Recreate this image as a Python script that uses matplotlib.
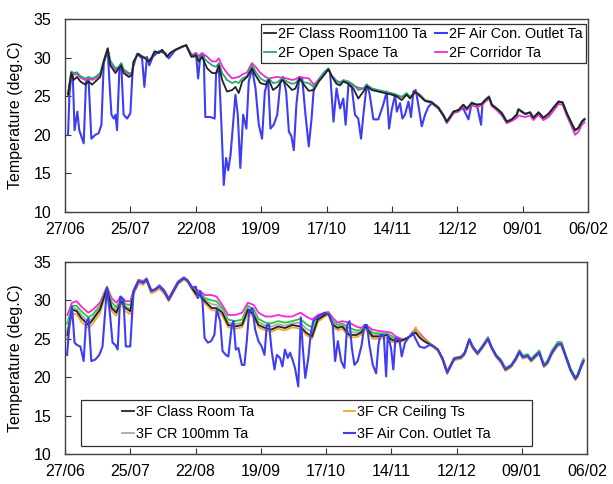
import matplotlib
matplotlib.use("Agg")
import matplotlib.pyplot as plt
from matplotlib.patches import Rectangle

plt.rcParams['font.family'] = ['Liberation Sans', 'DejaVu Sans']

# ---------------- axis labelling ----------------
tick_days = [0, 28, 56, 84, 112, 140, 168, 196, 224]
tick_labels = ['27/06', '25/07', '22/08', '19/09', '17/10', '14/11', '12/12', '09/01', '06/02']
y_ticks = [10, 15, 20, 25, 30, 35]

# ---------------- 2F series (days since 27/06) ----------------
days_2f = [1.3, 2.7, 3.7, 5.1, 6.6, 8.7, 10.1, 11.6, 13, 15.1,
           16.6, 18.3, 19.4, 21.6, 23, 24.1, 25.1, 27.3, 28.7, 29.4,
           31.3, 33, 34.4, 35.9, 37, 38.4, 40.1, 41.6, 43.7, 45.1,
           47.3, 50.1, 51.9, 54.1, 56.1, 57.3, 58.7, 60.9, 63, 64.7,
           65.9, 67.3, 69.4, 71.6, 73, 74.4, 75.9, 78, 80.1, 81.6,
           83.7, 85.9, 87.3, 89.1, 90.9, 93, 95.1, 97.3, 98.7, 100.4,
           102.3, 104.4, 106.6, 108.7, 111.4, 112.8, 114.2, 116.3, 117.8, 119.2,
           121.4, 123.5, 125.6, 127.8, 129.2, 131.4, 134.2, 137.1, 139.9, 142,
           144.2, 146.3, 147.8, 149.9, 152.1, 154.2, 157, 159.9, 162.1, 163.5,
           164.9, 166.4, 168.5, 170.6, 172.1, 174.2, 176.4, 178.5, 180, 181.6,
           182.8, 184.9, 187.1, 189.2, 191.4, 193.5, 194.2, 195.6, 197.1, 199.2,
           200.6, 202.8, 204.9, 207.1, 209.2, 211.4, 213.1, 214.9, 217.1, 218.5,
           219.9, 221.4, 222.5]

classroom_2f = [25.2, 28.0, 27.1, 27.5, 26.9, 26.5, 26.9, 26.5, 26.9, 27.5,
                29.5, 31.2, 29.0, 28.0, 28.6, 29.0, 28.0, 27.5, 27.7, 29.5,
                30.5, 30.1, 29.9, 29.5, 29.9, 30.8, 30.6, 31.0, 30.1, 30.6,
                31.0, 31.4, 31.6, 30.1, 30.3, 29.5, 30.1, 28.6, 28.0, 28.0,
                29.0, 27.1, 25.6, 25.8, 26.2, 25.4, 26.9, 27.5, 28.6, 27.7,
                26.7, 26.5, 27.1, 25.8, 26.2, 27.1, 26.5, 25.8, 26.0, 27.3,
                26.5, 25.7, 25.8, 26.9, 27.9, 28.5, 27.6, 26.6, 26.4, 26.9,
                26.6, 26.0, 24.7, 25.6, 26.3, 25.8, 25.6, 25.4, 25.2, 25.0,
                24.5, 25.2, 24.7, 25.6, 25.0, 24.4, 24.2, 23.5, 22.5, 21.7,
                22.3, 23.0, 23.2, 23.9, 23.4, 24.1, 23.9, 24.0, 24.5, 24.9,
                23.9, 23.4, 22.8, 21.7, 22.0, 22.6, 23.3, 23.0, 22.7, 22.9,
                22.2, 22.9, 22.2, 22.7, 23.5, 24.3, 24.2, 22.8, 21.4, 20.6,
                20.9, 21.7, 22.0]

open_space_2f = [25.3, 28.2, 28.0, 28.1, 27.6, 27.3, 27.5, 27.3, 27.5, 28.0,
                 29.6, 31.2, 29.6, 28.6, 28.8, 29.3, 28.5, 28.0, 28.0, 29.5,
                 30.5, 30.2, 30.0, 29.6, 30.0, 30.8, 30.6, 31.0, 30.2, 30.6,
                 31.0, 31.4, 31.6, 30.2, 30.4, 29.8, 30.2, 29.5, 29.0, 28.8,
                 29.3, 28.0, 27.1, 26.7, 26.9, 26.7, 27.3, 27.6, 29.0, 28.2,
                 27.3, 26.9, 27.3, 26.7, 26.8, 27.3, 26.9, 26.6, 26.7, 27.3,
                 26.8, 26.7, 26.2, 27.0, 28.2, 28.6, 27.7, 26.9, 26.7, 27.1,
                 26.9, 26.5, 25.8, 26.0, 26.5, 26.0, 25.8, 25.6, 25.4, 25.2,
                 24.9, 25.4, 24.9, 25.6, 25.2, 24.5, 24.3, 23.6, 22.6, 21.7,
                 22.3, 23.0, 23.2, 23.9, 23.4, 24.2, 23.9, 24.0, 24.5, 25.0,
                 23.9, 23.4, 22.8, 21.7, 22.0, 22.7, 23.3, 23.1, 22.7, 22.9,
                 22.2, 22.9, 22.2, 22.7, 23.5, 24.3, 24.2, 22.8, 21.4, 20.5,
                 20.9, 21.8, 22.1]

corridor_2f = [25.2, 28.1, 27.8, 27.9, 27.4, 27.1, 27.3, 27.1, 27.3, 27.8,
               29.5, 31.1, 29.4, 28.4, 28.7, 29.1, 28.3, 27.8, 27.9, 29.5,
               30.5, 30.1, 29.9, 29.5, 29.9, 30.8, 30.6, 31.0, 30.1, 30.6,
               31.0, 31.4, 31.6, 30.3, 30.6, 30.2, 30.6, 30.1, 29.5, 29.5,
               29.9, 28.9, 28.0, 27.3, 27.4, 27.5, 27.8, 28.1, 29.3, 28.8,
               28.0, 27.5, 27.3, 27.4, 27.5, 27.4, 27.3, 27.1, 27.2, 27.5,
               27.4, 27.3, 26.5, 27.1, 28.1, 28.4, 27.7, 27.0, 26.8, 27.0,
               26.8, 26.4, 26.1, 26.0, 26.4, 26.0, 25.7, 25.5, 25.3, 25.1,
               24.9, 25.2, 24.9, 25.4, 25.0, 24.4, 24.1, 23.4, 22.4, 21.5,
               22.1, 22.8, 23.0, 23.6, 23.2, 23.8, 23.6, 23.8, 24.3, 24.7,
               23.7, 23.2, 22.5, 21.5, 21.8, 22.2, 22.5, 22.4, 22.3, 22.5,
               21.9, 22.6, 21.9, 22.3, 23.1, 24.0, 23.9, 22.5, 21.0, 20.0,
               20.4, 21.3, 21.6]

outlet_2f_days = [1.3, 1.9, 2.7, 3.3, 4.1, 5.3, 6.1, 8, 9, 10.1,
                  11.3, 13, 14.4, 15.6, 16.6, 18.3, 19.1, 19.9, 20.9, 21.6,
                  22.3, 23.3, 24.1, 25.1, 26.6, 28, 29, 30.9, 33, 34,
                  35.1, 36.1, 37.6, 40.1, 43, 44.4, 47.3, 50.1, 51.9, 53.7,
                  55.1, 56.1, 57, 58, 59.4, 60.1, 62.3, 64.1, 64.7, 65.9,
                  67, 68, 69, 69.9, 70.9, 72.3, 73, 74, 75.1, 76.3,
                  77.7, 78.7, 80.1, 81.6, 83, 84.4, 85.6, 87, 88, 89.4,
                  90.9, 92.3, 93.4, 94.7, 95.9, 97, 98, 99.1, 100.4, 101.6,
                  103, 104.4, 105.6, 106.6, 108, 110.1, 111.4, 112.8, 113.5, 115,
                  116.3, 117.8, 119.2, 120.2, 121.4, 122.8, 124.2, 125.6, 126.8, 127.8,
                  129.2, 130.4, 132.1, 134.2, 136.3, 137.8, 138.8, 139.9, 141.4, 142.1,
                  143.5, 144.5, 145.6, 147.1, 148.2, 149.2, 150.2, 151.1, 152.8, 154.2,
                  155.6, 157.1, 159.9, 162.1, 163.5, 164.9, 166.4, 168.5, 170.6, 172.8,
                  174.2, 176.4, 178.2, 178.8, 180, 181.6, 182.8, 184.9, 187.1, 189.2,
                  191.4, 193.5, 194.2, 195.6, 197.1, 199.2, 200.6, 202.8, 204.9, 207.1,
                  209.2, 211.4, 213.1, 214.9, 217.1, 218.5, 219.9, 221.4, 222.5]

outlet_2f = [20.0, 25.2, 27.7, 28.0, 20.6, 23.0, 20.6, 18.9, 26.9, 27.1,
             19.5, 20.0, 20.2, 21.3, 29.3, 31.0, 26.5, 22.6, 22.1, 22.6,
             20.6, 28.6, 29.0, 22.6, 22.1, 22.8, 28.6, 30.5, 29.9, 26.2,
             30.1, 29.0, 30.1, 30.8, 30.6, 29.9, 31.0, 31.4, 31.6, 30.6,
             30.1, 30.6, 27.3, 30.3, 30.3, 22.3, 22.3, 22.1, 27.9, 28.6,
             21.3, 13.5, 17.0, 15.4, 17.4, 22.6, 25.2, 22.6, 15.7, 22.6,
             20.8, 26.9, 28.6, 26.0, 21.3, 19.5, 25.6, 27.1, 20.8, 21.3,
             22.6, 26.9, 27.5, 25.6, 20.4, 19.8, 18.0, 23.9, 27.5, 27.3,
             22.6, 18.5, 22.1, 26.2, 26.9, 27.7, 28.2, 28.5, 28.2, 21.7,
             26.0, 23.4, 24.7, 21.3, 26.5, 26.2, 22.6, 22.1, 19.5, 22.6,
             26.5, 25.4, 22.0, 22.0, 23.9, 25.6, 20.8, 23.2, 25.2, 23.0,
             24.1, 22.1, 22.6, 24.3, 22.3, 25.6, 25.8, 24.3, 21.1, 22.6,
             23.6, 24.1, 23.5, 22.5, 21.7, 22.3, 23.0, 23.2, 23.4, 22.0,
             24.1, 23.9, 21.3, 24.1, 24.5, 24.9, 23.9, 23.4, 22.8, 21.7,
             22.0, 22.6, 23.3, 23.0, 22.7, 22.9, 22.2, 22.9, 22.2, 22.7,
             23.5, 24.3, 24.2, 22.8, 21.4, 20.6, 20.9, 21.7, 22.0]

# ---------------- 3F series ----------------
days_3f = [1, 3, 5, 7, 10, 12, 15, 18, 20, 22,
           24, 26, 28, 29.5, 31.5, 33.5, 35, 37, 38.5, 40.5,
           42.5, 44.5, 46.5, 48.5, 51, 52.5, 54.5, 56.5, 58, 60,
           63, 65, 67.5, 70, 73, 76, 78.5, 81, 83, 86,
           88.5, 91.5, 94.5, 97.5, 101, 103.5, 106, 108.5, 111.5, 113,
           115, 117, 119, 122, 125, 127, 129, 132, 135, 138,
           140, 142, 143.5, 145.5, 148, 150.5, 152, 154, 157, 160,
           162, 164, 165.5, 167, 170, 171.5, 173.5, 175, 177, 179,
           181.5, 183, 185, 187, 189, 191.5, 193.5, 195, 196.5, 198.5,
           200, 202, 203.5, 205.5, 207, 209, 211.5, 213, 215, 217,
           219, 220, 221.5, 222.5]

corridor_3f = [28.1, 29.7, 29.9, 29.2, 28.4, 28.8, 29.7, 31.8, 30.3, 29.7,
               30.5, 29.9, 29.9, 31.4, 32.7, 32.5, 32.9, 31.4, 31.4, 32.0,
               31.4, 30.3, 31.4, 32.5, 33.0, 32.7, 31.8, 31.4, 31.2, 30.7,
               30.7, 30.5, 29.4, 28.1, 28.1, 28.4, 29.7, 29.4, 28.4, 27.9,
               27.9, 28.1, 27.9, 27.9, 28.4, 27.9, 27.5, 28.1, 28.4, 28.5,
               27.7, 27.1, 27.3, 27.1, 26.6, 26.4, 26.8, 26.2, 26.0, 25.9,
               25.8, 25.3, 25.1, 24.9, 25.3, 26.2, 25.8, 25.1, 24.3, 23.6,
               22.5, 20.8, 21.6, 22.5, 22.7, 23.2, 24.9, 24.0, 23.2, 24.0,
               25.2, 24.0, 22.9, 22.3, 21.2, 21.6, 22.5, 23.5, 22.7, 22.9,
               22.3, 22.9, 23.4, 21.6, 22.1, 23.4, 24.5, 24.5, 22.7, 21.0,
               19.9, 20.3, 21.6, 22.3]

classroom_3f = [25.5, 28.8, 28.6, 27.7, 26.8, 27.5, 28.8, 31.6, 29.0, 28.4,
                29.9, 29.0, 28.6, 31.2, 32.5, 32.3, 32.7, 31.2, 31.4, 31.8,
                31.2, 30.1, 31.2, 32.3, 32.9, 32.6, 31.6, 30.7, 30.7, 29.9,
                29.0, 29.0, 28.4, 26.8, 26.6, 26.8, 28.8, 28.1, 26.8, 26.4,
                26.2, 26.6, 26.4, 26.8, 26.6, 25.8, 25.3, 27.5, 28.1, 28.3,
                26.8, 26.4, 26.6, 25.5, 25.5, 25.8, 26.6, 25.3, 25.3, 25.5,
                24.9, 24.7, 24.7, 24.9, 25.3, 25.8, 25.2, 24.7, 24.2, 23.6,
                22.4, 20.6, 21.5, 22.4, 22.6, 23.1, 24.9, 23.9, 23.1, 23.9,
                25.0, 23.9, 22.8, 22.1, 21.0, 21.5, 22.4, 23.3, 22.6, 22.8,
                22.2, 22.8, 23.2, 21.5, 21.9, 23.2, 24.3, 24.3, 22.6, 20.9,
                19.8, 20.2, 21.4, 22.1]

open_space_3f = [27.0, 29.3, 29.3, 28.6, 27.8, 28.2, 29.3, 31.7, 29.8, 29.1,
                 30.2, 29.5, 29.4, 31.3, 32.6, 32.4, 32.8, 31.3, 31.4, 31.9,
                 31.3, 30.2, 31.3, 32.4, 33.0, 32.6, 31.7, 31.1, 31.0, 30.3,
                 30.0, 29.9, 29.0, 27.5, 27.3, 27.5, 29.3, 28.8, 27.6, 27.1,
                 27.0, 27.3, 27.1, 27.3, 27.6, 26.9, 26.5, 27.8, 28.3, 28.4,
                 27.3, 26.8, 27.0, 26.4, 26.1, 26.1, 26.7, 25.8, 25.7, 25.7,
                 25.4, 25.0, 24.9, 24.9, 25.3, 26.0, 25.5, 24.9, 24.3, 23.6,
                 22.5, 20.7, 21.6, 22.5, 22.7, 23.2, 25.0, 24.0, 23.2, 24.0,
                 25.2, 24.0, 22.9, 22.3, 21.2, 21.6, 22.6, 23.5, 22.8, 23.0,
                 22.4, 23.0, 23.5, 21.7, 22.1, 23.5, 24.6, 24.6, 22.8, 21.1,
                 20.0, 20.4, 21.7, 22.4]

ceiling_3f = [25.0, 28.3, 28.2, 27.2, 26.4, 27.0, 28.3, 31.3, 28.6, 28.0,
              29.5, 28.6, 28.2, 30.8, 32.2, 32.0, 32.5, 30.9, 31.1, 31.5,
              30.9, 29.9, 31.0, 32.1, 32.7, 32.4, 31.4, 30.4, 30.4, 29.6,
              28.7, 28.7, 28.0, 26.5, 26.3, 26.5, 28.4, 27.8, 26.5, 26.1,
              25.9, 26.3, 26.1, 26.5, 26.3, 25.5, 25.0, 27.2, 27.9, 28.1,
              26.5, 26.1, 26.3, 25.2, 25.2, 25.5, 26.3, 25.0, 25.0, 25.2,
              24.6, 24.5, 24.5, 24.8, 25.4, 26.5, 25.6, 24.9, 24.2, 23.4,
              22.2, 20.4, 21.3, 22.2, 22.4, 22.9, 24.6, 23.7, 22.9, 23.7,
              24.8, 23.7, 22.6, 21.9, 20.8, 21.3, 22.2, 23.1, 22.4, 22.6,
              22.0, 22.6, 23.0, 21.3, 21.7, 23.0, 24.1, 24.1, 22.4, 20.7,
              19.6, 20.0, 21.2, 21.9]

cr100_3f = [26.0, 29.0, 28.9, 28.1, 27.2, 27.8, 29.0, 31.6, 29.3, 28.7,
            30.0, 29.2, 28.9, 31.2, 32.5, 32.3, 32.7, 31.2, 31.4, 31.8,
            31.2, 30.1, 31.2, 32.3, 32.9, 32.6, 31.6, 30.9, 30.8, 30.1,
            29.5, 29.4, 28.7, 27.1, 26.9, 27.1, 29.0, 28.4, 27.2, 26.7,
            26.6, 26.9, 26.7, 27.0, 27.1, 26.3, 25.9, 27.6, 28.2, 28.4,
            27.0, 26.6, 26.8, 25.9, 25.8, 25.9, 26.6, 25.5, 25.5, 25.6,
            25.1, 24.8, 24.8, 24.9, 25.3, 25.9, 25.3, 24.8, 24.2, 23.5,
            22.4, 20.7, 21.5, 22.4, 22.6, 23.1, 24.9, 23.9, 23.1, 23.9,
            25.1, 23.9, 22.8, 22.2, 21.1, 21.5, 22.4, 23.4, 22.6, 22.8,
            22.2, 22.8, 23.3, 21.5, 22.0, 23.3, 24.4, 24.4, 22.6, 20.9,
            19.8, 20.2, 21.5, 22.2]

outlet_3f_days = [0.9, 1.9, 3, 4.1, 5.1, 6.6, 8, 9, 10.1, 11.3,
                  13, 14.7, 16.1, 18, 19.4, 20.4, 21.6, 22.6, 23.7, 25.1,
                  26.1, 28, 29.4, 30.4, 31.5, 33.5, 35, 37, 38.5, 40.5,
                  42.5, 44.5, 46.5, 48.5, 51, 52.5, 54.5, 56.1, 57, 58,
                  59, 59.9, 61.3, 62.7, 64.1, 65.1, 66.6, 67.6, 69, 70.1,
                  71.6, 72.3, 73.3, 74.4, 75.9, 77, 78, 79, 80.4, 81.6,
                  83, 84.4, 85.6, 86.6, 87.6, 88.7, 89.9, 90.9, 92.3, 93.3,
                  94.4, 95.6, 96.6, 97.6, 98.7, 100.1, 101.2, 102, 103.1, 104.4,
                  105.4, 106.5, 108.7, 111.5, 113.5, 114.9, 115.9, 117.1, 118.5, 119.9,
                  121.1, 122.1, 123.1, 124.2, 125.6, 127.3, 128.5, 129.6, 130.6, 132.1,
                  133.5, 134.5, 135.3, 136.8, 137.8, 138.5, 139.9, 140.9, 141.8, 143.5,
                  144.5, 145.9, 147.3, 149.2, 150.6, 152.1, 154.2, 156.4, 157.8, 160,
                  162, 164, 165.5, 167, 170, 171.5, 173.5, 175, 177, 179,
                  181.5, 183, 185, 187, 189, 191.5, 193.5, 195, 196.5, 198.5,
                  200, 202, 203.5, 205.5, 207, 209, 211.5, 213, 215, 217,
                  219, 220, 221.5, 222.5]

outlet_3f = [22.9, 26.8, 29.2, 24.5, 24.2, 24.0, 22.1, 27.1, 27.7, 22.1,
             22.3, 22.9, 24.0, 31.6, 27.9, 24.5, 24.2, 23.6, 30.5, 30.1,
             24.0, 24.0, 31.2, 31.6, 32.5, 32.3, 32.7, 31.2, 31.4, 31.8,
             31.2, 30.1, 31.2, 32.3, 32.9, 32.6, 31.6, 31.8, 30.3, 31.2,
             29.9, 25.1, 24.5, 24.7, 25.5, 28.8, 27.3, 23.4, 22.9, 22.7,
             26.8, 27.3, 23.6, 23.8, 21.6, 21.6, 24.7, 28.6, 29.0, 26.2,
             24.7, 24.0, 22.9, 26.8, 26.8, 23.4, 21.0, 22.9, 22.5, 21.4,
             23.6, 22.5, 23.2, 22.3, 21.2, 18.8, 27.8, 24.0, 19.9, 22.5,
             25.5, 27.3, 27.9, 28.4, 28.1, 26.8, 22.1, 24.7, 22.1, 21.2,
             26.8, 27.3, 23.8, 21.6, 22.1, 24.2, 26.8, 26.8, 24.2, 21.6,
             20.5, 24.2, 25.5, 25.5, 20.1, 25.5, 23.8, 21.0, 25.1, 24.9,
             22.7, 24.5, 25.1, 25.8, 24.9, 24.0, 23.8, 24.2, 24.1, 23.6,
             22.4, 20.6, 21.5, 22.4, 22.6, 23.1, 24.9, 23.9, 23.1, 23.9,
             25.0, 23.9, 22.8, 22.1, 21.0, 21.5, 22.4, 23.3, 22.6, 22.8,
             22.2, 22.8, 23.2, 21.5, 21.9, 23.2, 24.3, 24.3, 22.6, 20.9,
             19.8, 20.2, 21.4, 22.1]

# ---------------- figure ----------------
W, H = 613, 484
fig = plt.figure(figsize=(W / 100, H / 100), dpi=100)
fig.patch.set_facecolor('white')

ax1 = fig.add_axes([65 / W, 1 - 212 / H, 523 / W, 193 / H])
ax2 = fig.add_axes([65 / W, 1 - 454 / H, 522 / W, 192 / H])

LW = 1.3
# 2F
h_out2, = ax1.plot(outlet_2f_days, outlet_2f, color='#3d3df5', lw=1.5,
                   label='2F Air Con. Outlet Ta')
h_cor2, = ax1.plot(days_2f, corridor_2f, color='#f02ccc', lw=LW, label='2F Corridor Ta')
h_open2, = ax1.plot(days_2f, open_space_2f, color='#2aa878', lw=LW, label='2F Open Space Ta')
h_cls2, = ax1.plot(days_2f, classroom_2f, color='#222222', lw=LW, label='2F Class Room1100 Ta')

# 3F
ax2.plot(days_3f, corridor_3f, color='#ff22dd', lw=LW)
ax2.plot(days_3f, open_space_3f, color='#22cc33', lw=LW)
h_100, = ax2.plot(days_3f, cr100_3f, color='#a8a8a8', lw=LW, label='3F CR 100mm Ta')
h_ceil, = ax2.plot(days_3f, ceiling_3f, color='#f0a82a', lw=LW, label='3F CR Ceiling Ts')
h_cls3, = ax2.plot(days_3f, classroom_3f, color='#222222', lw=LW, label='3F Class Room Ta')
h_out3, = ax2.plot(outlet_3f_days, outlet_3f, color='#3d3df5', lw=1.5,
                   label='3F Air Con. Outlet Ta')

for ax in (ax1, ax2):
    ax.set_xlim(0, 224)
    ax.set_ylim(10, 35)
    ax.set_xticks(tick_days)
    ax.set_xticklabels(tick_labels)
    ax.set_yticks(y_ticks)
    ax.tick_params(direction='in', length=4, width=0.8, labelsize=11.5,
                   colors='#333333', labelcolor='black')
    ax.tick_params(axis='x', pad=7)
    ax.tick_params(axis='y', pad=10)
    for s in ax.spines.values():
        s.set_color('#404040')
        s.set_linewidth(1.0)
    ax.set_ylabel('Temperature (deg.C)', fontsize=11.5)
    ax.yaxis.set_label_coords(-0.081, 0.5)

leg1 = ax1.legend(handles=[h_cls2, h_open2, h_out2, h_cor2], ncol=2,
                  loc='upper right', bbox_to_anchor=(0.996, 0.975),
                  borderaxespad=0, fontsize=10.4, handlelength=0.8,
                  handletextpad=0.15, columnspacing=0.55, labelspacing=0.3,
                  borderpad=0.25, fancybox=False, edgecolor='#303030',
                  framealpha=1)
leg1.get_frame().set_linewidth(0.9)

# framed box for the 3F legend
ax2.add_patch(Rectangle((16 / 522, 8 / 192), 451 / 522, 46 / 192,
                        transform=ax2.transAxes, facecolor='white',
                        edgecolor='#303030', lw=0.9, zorder=4))
ax2.legend(handles=[h_cls3, h_100, h_ceil, h_out3], ncol=2, loc='center',
           bbox_to_anchor=(241.5 / 522, 31 / 192), frameon=False,
           fontsize=10.4, handlelength=0.8, handletextpad=0.15,
           columnspacing=6.2, labelspacing=0.55).set_zorder(5)

fig.savefig('out.png', dpi=100)
